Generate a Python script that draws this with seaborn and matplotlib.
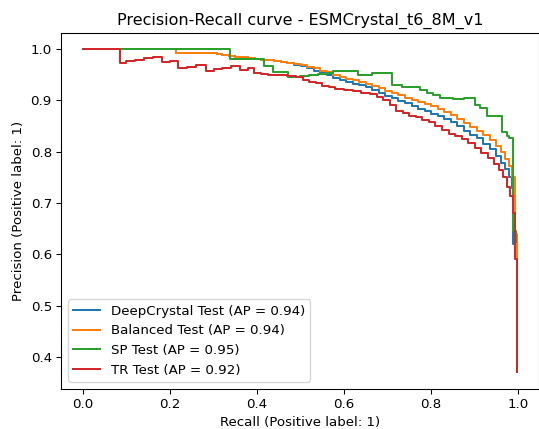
import matplotlib
matplotlib.use("Agg")
import matplotlib.pyplot as plt
import seaborn as sns
import pandas as pd

# ---- data (recall increasing, precision level starting at that recall) ----
labels = ["DeepCrystal Test (AP = 0.94)", "Balanced Test (AP = 0.94)",
          "SP Test (AP = 0.95)", "TR Test (AP = 0.92)"]
colors = ["#1f77b4", "#ff7f0e", "#2ca02c", "#d62728"]

orange_recall = [0.0, 0.214, 0.307, 0.32, 0.335, 0.35, 0.365, 0.38, 0.395, 0.41, 0.425,
                 0.44, 0.455, 0.47, 0.485, 0.50, 0.515, 0.53, 0.545, 0.56, 0.575, 0.59,
                 0.605, 0.62, 0.635, 0.65, 0.665, 0.68, 0.695, 0.71, 0.725, 0.74, 0.755,
                 0.77, 0.785, 0.80, 0.815, 0.83, 0.845, 0.86, 0.875, 0.89, 0.905, 0.92,
                 0.935, 0.95, 0.96, 0.97, 0.978, 0.985, 0.993, 0.997]
orange_prec = [1.0, 0.993, 0.990, 0.989, 0.987, 0.985, 0.984, 0.982, 0.980, 0.979, 0.978,
               0.977, 0.975, 0.973, 0.971, 0.968, 0.965, 0.962, 0.958, 0.955, 0.950, 0.946,
               0.942, 0.939, 0.936, 0.932, 0.928, 0.924, 0.919, 0.914, 0.910, 0.905, 0.900,
               0.896, 0.892, 0.888, 0.883, 0.877, 0.871, 0.864, 0.856, 0.848, 0.840, 0.832,
               0.822, 0.811, 0.800, 0.786, 0.772, 0.751, 0.640, 0.550]

blue_recall = [0.0, 0.214, 0.307, 0.32, 0.335, 0.35, 0.365, 0.38, 0.395, 0.41, 0.425,
               0.44, 0.455, 0.47, 0.485, 0.50, 0.515, 0.53, 0.545, 0.56, 0.575, 0.59,
               0.605, 0.62, 0.635, 0.65, 0.665, 0.68, 0.695, 0.71, 0.725, 0.74, 0.755,
               0.77, 0.785, 0.80, 0.815, 0.83, 0.845, 0.86, 0.875, 0.89, 0.905, 0.92,
               0.935, 0.95, 0.96, 0.97, 0.978, 0.985, 0.988, 0.997]
blue_prec = [1.0, 0.993, 0.990, 0.989, 0.987, 0.985, 0.984, 0.982, 0.980, 0.979, 0.978,
             0.976, 0.974, 0.972, 0.969, 0.966, 0.962, 0.958, 0.954, 0.950, 0.944, 0.940,
             0.936, 0.932, 0.929, 0.925, 0.920, 0.915, 0.909, 0.904, 0.899, 0.894, 0.889,
             0.884, 0.879, 0.874, 0.869, 0.864, 0.857, 0.850, 0.841, 0.833, 0.826, 0.815,
             0.805, 0.792, 0.778, 0.766, 0.750, 0.729, 0.620, 0.510]

green_recall = [0.0, 0.338, 0.416, 0.436, 0.472, 0.499, 0.52, 0.54, 0.56, 0.574, 0.633,
                0.664, 0.71, 0.733, 0.775, 0.79, 0.805, 0.82, 0.851, 0.875, 0.901, 0.912,
                0.928, 0.962, 0.974, 0.978, 0.989, 0.995]
green_prec = [1.0, 0.980, 0.967, 0.956, 0.945, 0.947, 0.949, 0.951, 0.953, 0.957, 0.949,
              0.953, 0.930, 0.925, 0.920, 0.914, 0.910, 0.904, 0.902, 0.905, 0.891, 0.886,
              0.869, 0.839, 0.830, 0.826, 0.645, 0.625]

red_recall = [0.0, 0.085, 0.10, 0.12, 0.14, 0.16, 0.181, 0.20, 0.219, 0.24, 0.26, 0.282,
              0.30, 0.32, 0.34, 0.362, 0.38, 0.392, 0.41, 0.425, 0.45, 0.47, 0.49, 0.505,
              0.52, 0.535, 0.55, 0.565, 0.58, 0.60, 0.62, 0.64, 0.66, 0.675, 0.69, 0.705,
              0.72, 0.735, 0.75, 0.765, 0.78, 0.795, 0.81, 0.825, 0.84, 0.855, 0.87, 0.885,
              0.90, 0.915, 0.93, 0.945, 0.955, 0.965, 0.975, 0.982, 0.988, 0.992, 0.997]
red_prec = [1.0, 0.973, 0.976, 0.979, 0.982, 0.985, 0.974, 0.977, 0.963, 0.965, 0.968,
            0.958, 0.961, 0.963, 0.966, 0.960, 0.962, 0.953, 0.951, 0.949, 0.950, 0.947,
            0.945, 0.940, 0.936, 0.933, 0.928, 0.926, 0.923, 0.920, 0.918, 0.915, 0.912,
            0.906, 0.900, 0.890, 0.880, 0.876, 0.870, 0.867, 0.862, 0.857, 0.850, 0.843,
            0.835, 0.830, 0.824, 0.816, 0.808, 0.797, 0.788, 0.775, 0.764, 0.750, 0.732,
            0.714, 0.680, 0.590, 0.370]

curves = [(blue_recall, blue_prec), (orange_recall, orange_prec),
          (green_recall, green_prec), (red_recall, red_prec)]

# ---- figure ----
DPI = 96
fig = plt.figure(figsize=(539 / DPI, 429 / DPI), dpi=DPI)
ax = fig.add_axes([61.25 / 539, 40.4 / 429, 477.3 / 539, 355.8 / 429])

for (rec, prec), lab, col in zip(curves, labels, colors):
    df = pd.DataFrame({"recall": rec, "precision": prec})
    sns.lineplot(data=df, x="recall", y="precision", ax=ax, color=col, label=lab,
                 estimator=None, sort=False, drawstyle="steps-post", linewidth=1.5)

ax.set_xlabel("Recall (Positive label: 1)")
ax.set_ylabel("Precision (Positive label: 1)")
ax.set_title("Precision-Recall curve - ESMCrystal_t6_8M_v1", fontsize=12)
ax.legend(loc="lower left")

fig.savefig("out.png", dpi=DPI)
